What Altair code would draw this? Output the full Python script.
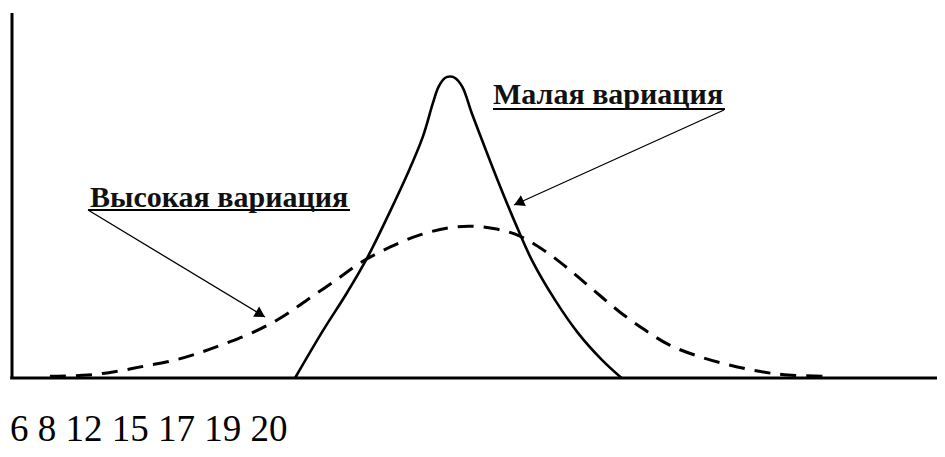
import altair as alt
import pandas as pd

# Narrow distribution ("Малая вариация") – solid curve
solid_x = [30.6, 33.6, 36.2, 38.5, 40.9, 42.7, 44.4, 45.5, 46.1, 46.8, 47.4, 47.9,
           48.7, 49.7, 51.1, 52.5, 54.4, 56.2, 58.7, 61.2, 63.8, 65.9]
solid_y = [0, 12.9, 23.3, 33.4, 45.8, 55.6, 66.0, 75.3, 79.7, 82.2, 82.6, 82.2,
           79.7, 72.6, 63.3, 54.2, 42.5, 32.3, 21.4, 12.3, 4.9, 0]

# Wide distribution ("Высокая вариация") – dashed curve
dashed_x = [4.1, 8.2, 11.5, 14.4, 17.6, 20.5, 23.2, 26.4, 29.2, 31.9, 34.9, 37.8,
            40.9, 44.1, 47.1, 49.5, 52.4, 54.9, 57.6, 60.3, 63.0, 65.7, 68.4, 71.1,
            74.4, 77.5, 80.6, 83.9, 88.4]
dashed_y = [0.5, 0.8, 1.9, 3.3, 4.9, 7.1, 9.6, 12.9, 16.7, 21.4, 26.6, 31.8,
            35.9, 39.2, 41.1, 41.6, 40.8, 38.9, 34.8, 29.6, 23.8, 18.1, 13.2, 9.0,
            5.8, 3.6, 1.9, 0.8, 0.5]

label_text = ["Высокая вариация", "Малая вариация"]
label_x = [8.43, 52.0]
label_y = [46.85, 75.07]
underline_x = [8.22, 52.0]
underline_x2 = [36.54, 77.08]
underline_y = [46.03, 73.7]
arrow_x = [8.22, 76.97]
arrow_y = [46.03, 73.42]
arrow_x2 = [27.35, 54.27]
arrow_y2 = [16.71, 47.4]
head_x = [26.87, 54.78]
head_y = [17.45, 48.0]
head_angle = [120.7, 245.4]

footer_text = ["6 8 12 15 17 19 20"]
footer_x = [-0.22]
footer_y = [-17.26]

X_DOMAIN = [-0.4324, 100]
Y_DOMAIN = [-19.45, 101.37]

xs = alt.Scale(domain=X_DOMAIN, nice=False, zero=False)
ys = alt.Scale(domain=Y_DOMAIN, nice=False, zero=False)

solid_df = pd.DataFrame({"x": solid_x, "y": solid_y})
dashed_df = pd.DataFrame({"x": dashed_x, "y": dashed_y})
labels_df = pd.DataFrame({"t": label_text, "x": label_x, "y": label_y,
                          "ux": underline_x, "ux2": underline_x2, "uy": underline_y,
                          "ax": arrow_x, "ay": arrow_y, "ax2": arrow_x2, "ay2": arrow_y2,
                          "hx": head_x, "hy": head_y, "ha": head_angle})
footer_df = pd.DataFrame({"t": footer_text, "x": footer_x, "y": footer_y})
axes_df = pd.DataFrame({"x": [-0.2, 0.0], "x2": [100, 0.0], "y": [0.0, 0.0], "y2": [0.0, 100]})

X = lambda f: alt.X(f, type="quantitative", scale=xs, axis=None)
Y = lambda f: alt.Y(f, type="quantitative", scale=ys, axis=None)

axes = alt.Chart(axes_df).mark_rule(color="#000", strokeWidth=3).encode(
    x=X("x"), x2="x2", y=Y("y"), y2="y2")

dashed = alt.Chart(dashed_df).mark_line(
    color="#000", strokeWidth=3, strokeDash=[16, 10], interpolate="catmull-rom"
).encode(x=X("x"), y=Y("y"), order="x")

solid = alt.Chart(solid_df).mark_line(
    color="#000", strokeWidth=2.6, interpolate="catmull-rom"
).encode(x=X("x"), y=Y("y"), order="x")

base = alt.Chart(labels_df)
texts = base.mark_text(
    align="left", baseline="alphabetic", font="Liberation Serif", fontWeight="bold",
    fontSize=30, color="#111"
).encode(x=X("x"), y=Y("y"), text="t")
underlines = base.mark_rule(color="#000", strokeWidth=2).encode(
    x=X("ux"), x2="ux2", y=Y("uy"))
arrows = base.mark_rule(color="#000", strokeWidth=1.3).encode(
    x=X("ax"), y=Y("ay"), x2="ax2", y2="ay2")
heads = base.mark_point(shape="triangle-up", filled=True, color="#000", size=140,
                        opacity=1).encode(
    x=X("hx"), y=Y("hy"), angle=alt.Angle("ha", type="quantitative",
                                          scale=alt.Scale(domain=[0, 360], range=[0, 360])))

footer = alt.Chart(footer_df).mark_text(
    align="left", baseline="alphabetic", font="Liberation Serif", fontSize=37, color="#000"
).encode(x=X("x"), y=Y("y"), text="t")

chart = alt.layer(axes, dashed, solid, underlines, arrows, heads, texts, footer).properties(
    width=929, height=441, padding=0,
    autosize=alt.AutoSizeParams(type="none"),
    background="white"
).configure_view(stroke=None)

chart.save("out.html", embed_options={"renderer": "svg", "actions": False})
